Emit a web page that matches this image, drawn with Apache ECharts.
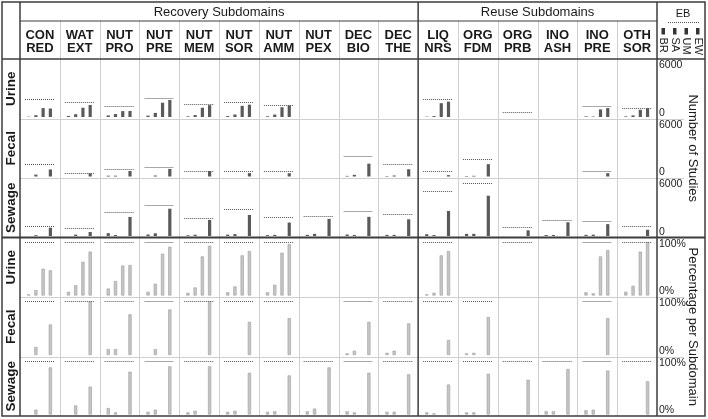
<!DOCTYPE html>
<html><head><meta charset="utf-8">
<script src="https://cdn.jsdelivr.net/npm/echarts/dist/echarts.min.js"></script>
<style>html,body{margin:0;padding:0;background:#fff}#c{width:708px;height:419px}</style>
</head><body><div id="c"></div>
<script>
// ---------- DATA ----------
const subdomains = ['CON\nRED','WAT\nEXT','NUT\nPRO','NUT\nPRE','NUT\nMEM','NUT\nSOR','NUT\nAMM','NUT\nPEX','DEC\nBIO','DEC\nTHE','LIQ\nNRS','ORG\nFDM','ORG\nPRB','INO\nASH','INO\nPRE','OTH\nSOR'];
const groups = ['Recovery Subdomains', 'Reuse Subdomains'];
const groupSizes = [10, 6];
const domains = ['Urine', 'Fecal', 'Sewage'];
const practices = ['BR', 'SA', 'UM', 'EW'];
const legendBars = [1, 1, 1, 1];
const countTicks = [0, 6000];
const pctTicks = [0, 100];
const axisTitles = ['Number of Studies', 'Percentage per Subdomain'];

// EB (total) number of studies per subdomain; null = no data
const ebUrine  = [2000,1650,1170,2100,1430,1660,1360,null,null,null,2040,null,490,null,1170,990];
const ebFecal  = [1380,360,810,1000,620,620,540,null,2320,1380,540,1950,null,null,540,null];
const ebSewage = [1050,870,2680,3400,2000,3020,2070,2180,2750,2490,5010,5950,980,1810,1620,1130];

// Number of studies
const urineCountBR = [40,115,180,150,70,100,80,0,0,0,40,0,0,0,70,70];
const urineCountSA = [200,310,330,460,215,280,270,0,0,0,100,0,0,0,50,180];
const urineCountUM = [1000,1040,660,1600,1040,1250,1090,0,0,0,1550,0,0,0,850,810];
const urineCountEW = [950,1350,670,1910,1330,1380,1300,0,0,0,1720,0,0,0,1000,990];

const fecalCountBR = [0,0,90,0,0,0,0,0,70,55,0,60,0,0,0,0];
const fecalCountSA = [210,0,90,110,0,0,0,0,185,110,0,80,0,0,0,0];
const fecalCountUM = [0,0,0,0,0,0,0,0,0,0,0,0,0,0,0,0];
const fecalCountEW = [790,360,620,850,620,385,370,0,1440,815,150,1385,0,0,370,0];

const sewageCountBR = [0,0,320,170,80,150,100,130,165,125,200,240,0,110,130,0];
const sewageCountSA = [95,150,110,300,140,210,125,240,110,125,100,240,0,110,145,0];
const sewageCountUM = [0,0,0,0,0,0,0,0,0,0,0,0,0,0,0,0];
const sewageCountEW = [930,450,2140,3060,1800,2360,1510,1920,2150,1870,2810,4520,640,1540,1330,700];

// Percentage per subdomain
const urinePctBR = [2,7,13,7,5,6,6,0,0,0,2,0,0,0,6,7];
const urinePctSA = [10,19,27,22,15,17,20,0,0,0,5,0,0,0,4,18];
const urinePctUM = [50,63,56,78,73,75,80,0,0,0,75,0,0,0,73,82];
const urinePctEW = [47,82,57,91,93,83,96,0,0,0,83,0,0,0,85,100];

const fecalPctBR = [0,0,11,0,0,0,0,0,3,4,0,3,0,0,0,0];
const fecalPctSA = [15,0,11,11,0,0,0,0,8,8,0,4,0,0,0,0];
const fecalPctUM = [0,0,0,0,0,0,0,0,0,0,0,0,0,0,0,0];
const fecalPctEW = [57,100,76,85,100,62,69,0,62,59,28,71,0,0,69,0];

const sewagePctBR = [0,0,12,5,4,5,5,6,6,5,4,4,0,6,8,0];
const sewagePctSA = [9,17,4,9,7,7,6,11,4,5,2,4,0,6,9,0];
const sewagePctUM = [0,0,0,0,0,0,0,0,0,0,0,0,0,0,0,0];
const sewagePctEW = [88,52,80,90,90,78,73,88,78,75,56,76,65,85,82,62];

// ---------- LAYOUT / STYLE ----------
const FONT = '"Liberation Sans", Arial, Helvetica, sans-serif';
const X0 = 20, XR = 657, Y0 = 59, YB = 416, LEFT = 2, RIGHT = 705, TOP = 2;
const colW = (XR - X0) / subdomains.length;
const rowH = (YB - Y0) / 6;
const solidEbCols = ['NUT\nPRE', 'DEC\nBIO', 'INO\nPRE'];
const DARK = '#3c3c3c', LIGHT = '#cfcfcf';

const ebByDomain = [ebUrine, ebFecal, ebSewage];
const countByDomain = [
  [urineCountBR, urineCountSA, urineCountUM, urineCountEW],
  [fecalCountBR, fecalCountSA, fecalCountUM, fecalCountEW],
  [sewageCountBR, sewageCountSA, sewageCountUM, sewageCountEW]
];
const pctByDomain = [
  [urinePctBR, urinePctSA, urinePctUM, urinePctEW],
  [fecalPctBR, fecalPctSA, fecalPctUM, fecalPctEW],
  [sewagePctBR, sewagePctSA, sewagePctUM, sewagePctEW]
];

const grid = [], xAxis = [], yAxis = [], series = [], graphic = [];
let gi = 0;

for (let r = 0; r < 6; r++) {
  const isPct = r >= 3;
  const d = r % 3;
  const rowTop = Y0 + r * rowH;
  const ticks = isPct ? pctTicks : countTicks;
  for (let c = 0; c < subdomains.length; c++) {
    grid.push({ left: X0 + c * colW + 5, top: rowTop + 4.5, width: 29, height: 53.5 });
    xAxis.push({ type: 'category', gridIndex: gi, data: practices, show: false });
    yAxis.push({ type: 'value', gridIndex: gi, min: ticks[0], max: ticks[1], show: false });
    const eb = ebByDomain[d][c];
    const src = isPct ? pctByDomain[d] : countByDomain[d];
    const vals = src.map(a => (eb != null && a[c] > 0) ? a[c] : '-');
    const solid = solidEbCols.includes(subdomains[c]);
    const s = {
      type: 'bar', xAxisIndex: gi, yAxisIndex: gi, barWidth: 3.2, silent: true,
      data: vals,
      itemStyle: isPct ? { color: '#c6c6c6', borderColor: '#9c9c9c', borderWidth: 0.6 } : { color: '#5a5a5a' }
    };
    if (eb != null) {
      s.markLine = {
        silent: true, symbol: 'none', label: { show: false }, animation: false,
        lineStyle: solid ? { type: 'solid', color: '#a8a8a8', width: 1 } : { type: [1, 1], color: '#555', width: 1 },
        data: [{ yAxis: isPct ? ticks[1] : eb }]
      };
    }
    series.push(s);
    gi++;
  }
  // tick-label axis in the right panel
  grid.push({ left: XR, top: rowTop + 6.3, width: 26, height: 47.7 });
  xAxis.push({ type: 'category', gridIndex: gi, data: practices, show: false });
  yAxis.push({
    type: 'value', gridIndex: gi, min: ticks[0], max: ticks[1], interval: ticks[1] - ticks[0], position: 'left',
    axisLine: { show: false }, axisTick: { show: false }, splitLine: { show: false },
    axisLabel: { inside: true, margin: 2, fontSize: 10.5, color: '#222', fontFamily: FONT,
      showMinLabel: true, showMaxLabel: true,
      formatter: v => isPct ? v + '%' : String(v) }
  });
  gi++;
}

// legend grid (practice keys)
grid.push({ left: 657.5, top: 28, width: 46, height: 6.5 });
xAxis.push({ type: 'category', gridIndex: gi, data: practices,
  axisLine: { show: false }, axisTick: { show: false },
  axisLabel: { rotate: -90, margin: 3, fontSize: 11, color: '#222', fontFamily: FONT, interval: 0 } });
yAxis.push({ type: 'value', gridIndex: gi, min: 0, max: 1, show: false });
series.push({ type: 'bar', xAxisIndex: gi, yAxisIndex: gi, barWidth: 3.5, silent: true, data: legendBars, itemStyle: { color: '#333' } });

// ---------- FRAME LINES ----------
function line(x1, y1, x2, y2, stroke, w, dash) {
  graphic.push({ type: 'line', silent: true, z: 10,
    shape: { x1, y1, x2, y2 }, style: { stroke, lineWidth: w, lineDash: dash || null } });
}
const px = v => Math.round(v) + 0.5;
for (let c = 1; c < subdomains.length; c++) {
  if (c === groupSizes[0]) continue;
  line(px(X0 + c * colW), 21, px(X0 + c * colW), YB, LIGHT, 1);
}
for (let r = 1; r < 6; r++) {
  if (r === 3) continue;
  const y = px(Y0 + r * rowH);
  line(X0, y, 684, y, LIGHT, 1);
}
line(X0, 21, XR, 21, DARK, 1.2);
line(LEFT, Y0, RIGHT, Y0, DARK, 1.5);
line(LEFT, Y0 + 3 * rowH, RIGHT, Y0 + 3 * rowH, DARK, 2);
line(X0, TOP, X0, YB, DARK, 1.5);
line(X0 + groupSizes[0] * colW, TOP, X0 + groupSizes[0] * colW, YB, DARK, 1.5);
line(XR, TOP, XR, YB, DARK, 1.5);
graphic.push({ type: 'rect', silent: true, z: 10, shape: { x: LEFT, y: TOP, width: RIGHT - LEFT, height: YB - TOP },
  style: { fill: 'none', stroke: DARK, lineWidth: 1.5 } });
line(668, 22.5, 699, 22.5, '#555', 1, [1, 1]);

// ---------- TEXT ----------
function text(t, x, y, size, bold, rot, lh) {
  graphic.push({ type: 'text', silent: true, z: 11, x, y, rotation: rot || 0,
    style: { text: t, fill: '#1a1a1a', font: (bold ? 'bold ' : '') + size + 'px ' + FONT,
      fontSize: size, fontWeight: bold ? 'bold' : 'normal', fontFamily: FONT,
      textAlign: 'center', textVerticalAlign: 'middle', align: 'center', verticalAlign: 'middle',
      lineHeight: lh || size * 1.2 } });
}
let gStart = 0;
groups.forEach((g, i) => {
  const x = X0 + (gStart + groupSizes[i] / 2) * colW;
  text(g, x, 12, 13, false);
  gStart += groupSizes[i];
});
subdomains.forEach((s, c) => text(s, X0 + (c + 0.5) * colW, 41.5, 13, true, 0, 13));
for (let r = 0; r < 6; r++) {
  text(domains[r % 3], 11, Y0 + (r + 0.5) * rowH, 13.5, true, Math.PI / 2);
}
text('EB', 683, 14, 11, false);
axisTitles.forEach((t, i) => text(t, 693, Y0 + (1.5 + 3 * i) * rowH, 13, false, -Math.PI / 2));

const chart = echarts.init(document.getElementById('c'), null, { renderer: 'canvas' });
chart.setOption({ animation: false, backgroundColor: '#fff', grid, xAxis, yAxis, series, graphic });
</script></body></html>
